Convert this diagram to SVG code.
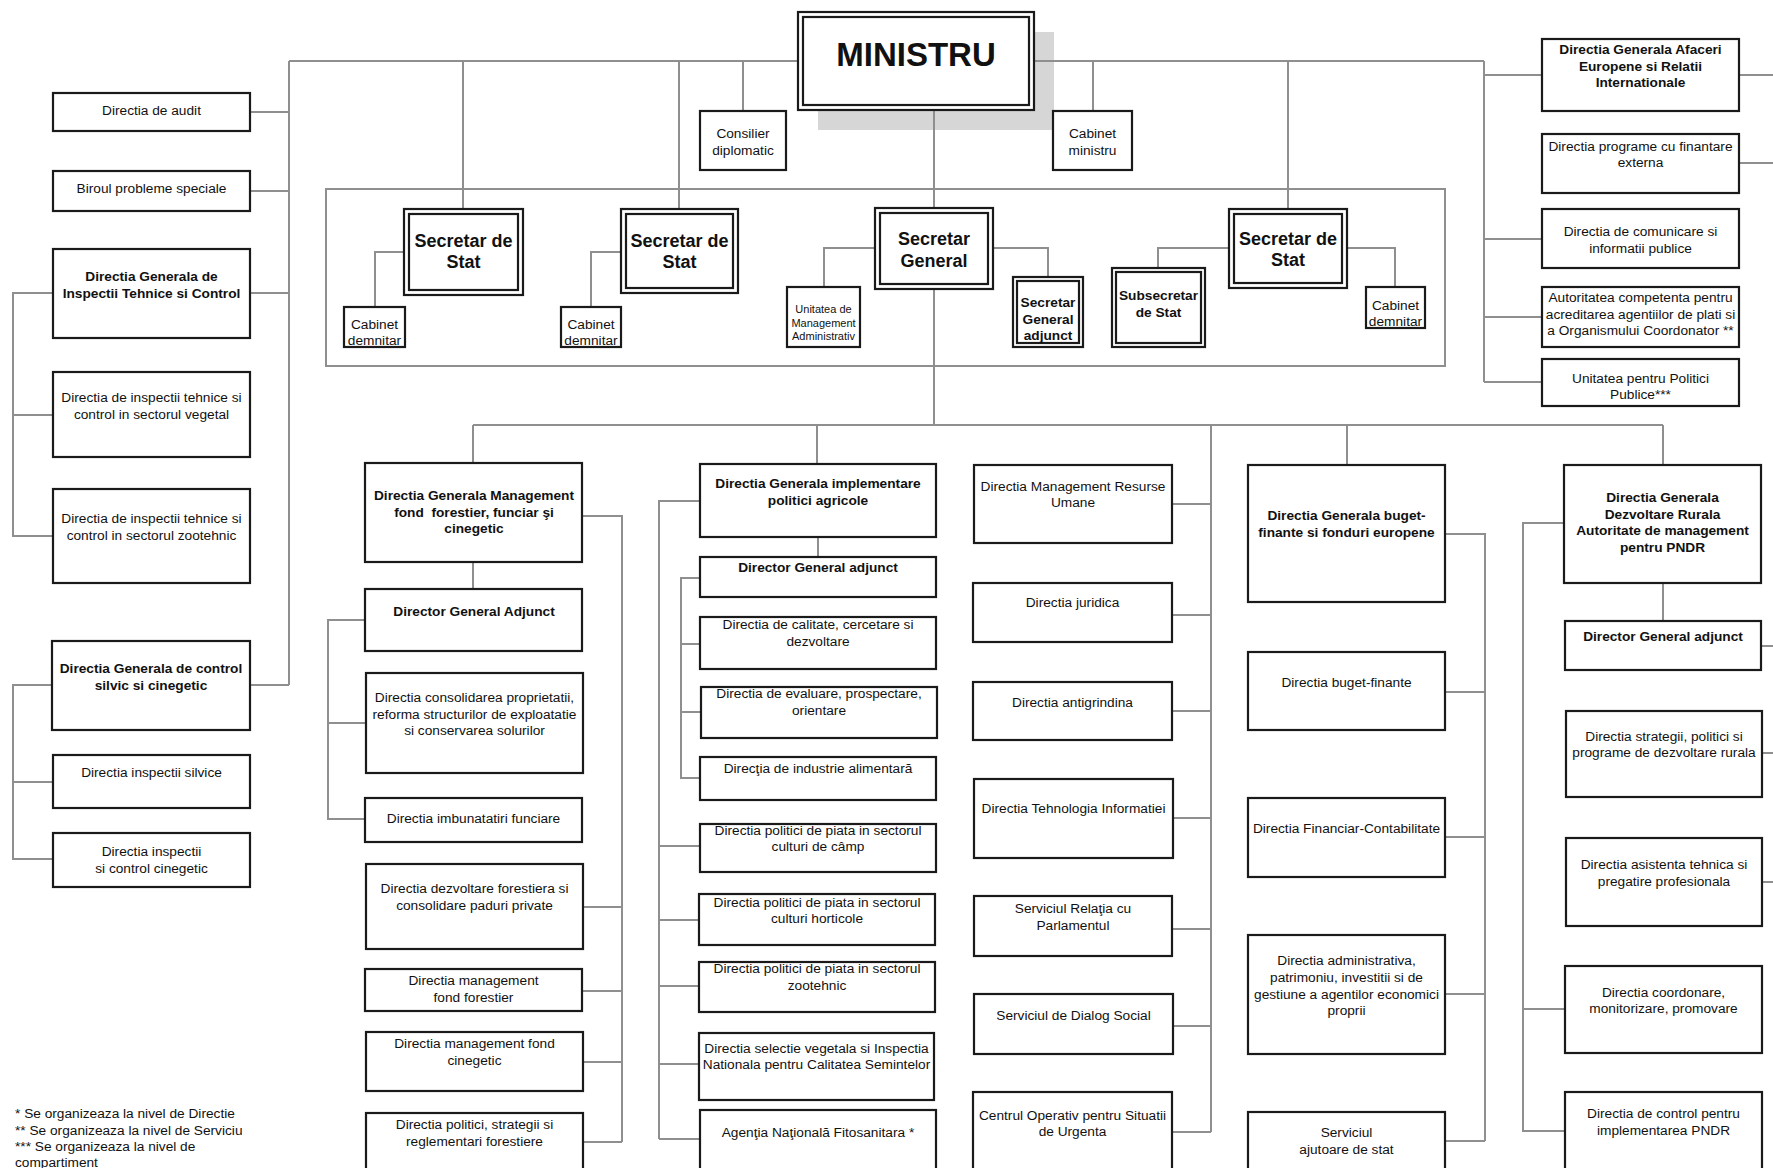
<svg xmlns="http://www.w3.org/2000/svg" width="1773" height="1168" viewBox="0 0 1773 1168">
<style>
.bg{fill:#fff}
.box{fill:#fff;stroke:#1a1a1a;stroke-width:2.2}
.dbl{fill:none;stroke:#1a1a1a;stroke-width:2.2}
.conn{fill:none;stroke:#8f8f8f;stroke-width:2}
.cont{fill:none;stroke:#8f8f8f;stroke-width:2}
.t{font-family:"Liberation Sans",Arial,sans-serif;font-size:13.7px;text-anchor:middle;fill:#111}
.b{font-weight:bold}
.big{font-family:"Liberation Sans",Arial,sans-serif;font-size:18px;font-weight:bold;text-anchor:middle;fill:#111}
.sm{font-family:"Liberation Sans",Arial,sans-serif;font-size:11px;text-anchor:middle;fill:#111}
.note{font-family:"Liberation Sans",Arial,sans-serif;font-size:13.7px;fill:#111}
</style>
<rect class="bg" x="0" y="0" width="1773" height="1168"/>
<rect x="818" y="32" width="236" height="98" fill="#d6d6d6"/>
<rect class="cont" x="326" y="189" width="1119" height="177"/>
<g id="connectors">
<path class="conn" d="M289 61H1484M289 61V685M250 112H289M250 191H289M250 293H289M250 685H289"/>
<path class="conn" d="M53 293H13V536H53M13 415H53M52 685H13V859H53M13 782H53"/>
<path class="conn" d="M463 61V209M679 61V209M743 61V111M1093 61V111M1288 61V209M934 110V208M934 289V425"/>
<path class="conn" d="M404 252H375V307M621 252H591V307M875 248H824V287M993 248H1048V277M1229 248H1158V268M1347 248H1395V287"/>
<path class="conn" d="M1484 61V382M1484 75H1542M1484 239H1542M1484 317H1542M1484 382H1542M1739 75H1773M1739 163H1773"/>
<path class="conn" d="M473 425H1663M473 425V463M817 425V464M1211 425V1132M1347 425V465M1663 425V465"/>
<path class="conn" d="M473 562V589M582 516H622V1142M583 907H622M582 991H622M583 1062H622M583 1142H622M365 620H328V819H365M328 723H366"/>
<path class="conn" d="M700 501H659V1139M659 846H700M659 920H699M659 986H699M659 1064H699M659 1139H700M818 537V557M700 578H681V778H700M681 644H700M681 712H701"/>
<path class="conn" d="M1172 504H1211M1172 615H1211M1172 711H1211M1173 818H1211M1172 929H1211M1173 1026H1211M1172 1132H1211"/>
<path class="conn" d="M1445 534H1485V1141M1445 692H1485M1445 837H1485M1445 994H1485M1445 1141H1485"/>
<path class="conn" d="M1564 523H1523V1131H1565M1523 1009H1565M1663 583V621M1761 646H1773M1762 753H1773M1762 882H1773"/>
</g>
<g id="ministru"><rect class="box" x="798" y="12" width="236" height="98"/><rect class="dbl" x="803" y="17" width="226" height="88"/><text x="916" y="66" style="font-family:'Liberation Sans',Arial,sans-serif;font-size:33px;font-weight:bold;text-anchor:middle;fill:#111">MINISTRU</text></g>
<g id="consilier"><rect class="box" x="700" y="111" width="86" height="59"/><text class="t" x="743" y="138">Consilier</text><text class="t" x="743" y="154.5">diplomatic</text></g>
<g id="cabinet-ministru"><rect class="box" x="1053" y="111" width="79" height="59"/><text class="t" x="1092.5" y="138">Cabinet</text><text class="t" x="1092.5" y="154.5">ministru</text></g>
<g id="sds1"><rect class="box" x="404" y="209" width="119" height="86"/><rect class="dbl" x="409" y="214" width="109" height="76"/><text class="big" x="463.5" y="247">Secretar de</text><text class="big" x="463.5" y="268">Stat</text></g>
<g id="cab1"><rect class="box" x="344" y="307" width="61" height="40"/><text class="t" x="374.5" y="329">Cabinet</text><text class="t" x="374.5" y="345">demnitar</text></g>
<g id="sds2"><rect class="box" x="621" y="209" width="117" height="84"/><rect class="dbl" x="626" y="214" width="107" height="74"/><text class="big" x="679.5" y="247">Secretar de</text><text class="big" x="679.5" y="268">Stat</text></g>
<g id="cab2"><rect class="box" x="561" y="307" width="60" height="40"/><text class="t" x="591" y="329">Cabinet</text><text class="t" x="591" y="345">demnitar</text></g>
<g id="sg"><rect class="box" x="875" y="208" width="118" height="81"/><rect class="dbl" x="880" y="213" width="108" height="71"/><text class="big" x="934" y="245">Secretar</text><text class="big" x="934" y="267">General</text></g>
<g id="uma"><rect class="box" x="787" y="287" width="73" height="60"/><text class="sm" x="823.5" y="313">Unitatea de</text><text class="sm" x="823.5" y="327">Management</text><text class="sm" x="823.5" y="340">Administrativ</text></g>
<g id="sga"><rect class="box" x="1013" y="277" width="70" height="70"/><rect class="dbl" x="1017" y="281" width="62" height="62"/><text class="t b" x="1048" y="307">Secretar</text><text class="t b" x="1048" y="323.5">General</text><text class="t b" x="1048" y="340">adjunct</text></g>
<g id="subsec"><rect class="box" x="1112" y="268" width="93" height="79"/><rect class="dbl" x="1116" y="272" width="85" height="71"/><text class="t b" x="1158.5" y="300">Subsecretar</text><text class="t b" x="1158.5" y="317">de Stat</text></g>
<g id="sds3"><rect class="box" x="1229" y="209" width="118" height="79"/><rect class="dbl" x="1234" y="214" width="108" height="69"/><text class="big" x="1288" y="245">Secretar de</text><text class="big" x="1288" y="266">Stat</text></g>
<g id="cab3"><rect class="box" x="1366" y="287" width="59" height="41"/><text class="t" x="1395.5" y="310">Cabinet</text><text class="t" x="1395.5" y="326">demnitar</text></g>
<g id="audit"><rect class="box" x="53" y="93" width="197" height="38"/><text class="t" x="151.5" y="115">Directia de audit</text></g>
<g id="biroul"><rect class="box" x="53" y="171" width="197" height="40"/><text class="t" x="151.5" y="193">Biroul probleme speciale</text></g>
<g id="dgitc"><rect class="box" x="53" y="249" width="197" height="89"/><text class="t b" x="151.5" y="281">Directia Generala de</text><text class="t b" x="151.5" y="297.5">Inspectii Tehnice si Control</text></g>
<g id="veg"><rect class="box" x="53" y="372" width="197" height="85"/><text class="t" x="151.5" y="402">Directia de inspectii tehnice si</text><text class="t" x="151.5" y="418.5">control in sectorul vegetal</text></g>
<g id="zoo"><rect class="box" x="53" y="489" width="197" height="94"/><text class="t" x="151.5" y="523">Directia de inspectii tehnice si</text><text class="t" x="151.5" y="539.5">control in sectorul zootehnic</text></g>
<g id="dgcsc"><rect class="box" x="52" y="641" width="198" height="89"/><text class="t b" x="151" y="673">Directia Generala de control</text><text class="t b" x="151" y="689.5">silvic si cinegetic</text></g>
<g id="silvice"><rect class="box" x="53" y="755" width="197" height="53"/><text class="t" x="151.5" y="777">Directia inspectii silvice</text></g>
<g id="cineg"><rect class="box" x="53" y="833" width="197" height="54"/><text class="t" x="151.5" y="856">Directia inspectii</text><text class="t" x="151.5" y="872.5">si control cinegetic</text></g>
<g id="dgaeri"><rect class="box" x="1542" y="39" width="197" height="72"/><text class="t b" x="1640.5" y="54">Directia Generala Afaceri</text><text class="t b" x="1640.5" y="70.5">Europene si Relatii</text><text class="t b" x="1640.5" y="87">Internationale</text></g>
<g id="programe"><rect class="box" x="1542" y="134" width="197" height="59"/><text class="t" x="1640.5" y="151">Directia programe cu finantare</text><text class="t" x="1640.5" y="167">externa</text></g>
<g id="comunicare"><rect class="box" x="1542" y="209" width="197" height="59"/><text class="t" x="1640.5" y="236">Directia de comunicare si</text><text class="t" x="1640.5" y="252.5">informatii publice</text></g>
<g id="autoritatea"><rect class="box" x="1542" y="287" width="197" height="60"/><text class="t" x="1640.5" y="302">Autoritatea competenta pentru</text><text class="t" x="1640.5" y="318.5">acreditarea agentiilor de plati si</text><text class="t" x="1640.5" y="335">a Organismului Coordonator **</text></g>
<g id="upp"><rect class="box" x="1542" y="359" width="197" height="47"/><text class="t" x="1640.5" y="383">Unitatea pentru Politici</text><text class="t" x="1640.5" y="399">Publice***</text></g>
<g id="dgmf"><rect class="box" x="365" y="463" width="217" height="99"/><text class="t b" x="474" y="500">Directia Generala Management</text><text class="t b" x="474" y="516.5" xml:space="preserve">fond  forestier, funciar şi</text><text class="t b" x="474" y="533">cinegetic</text></g>
<g id="dgaf"><rect class="box" x="365" y="589" width="217" height="62"/><text class="t b" x="474" y="616">Director General Adjunct</text></g>
<g id="consolidarea"><rect class="box" x="366" y="673" width="217" height="100"/><text class="t" x="474.5" y="702">Directia consolidarea proprietatii,</text><text class="t" x="474.5" y="718.5">reforma structurilor de exploatatie</text><text class="t" x="474.5" y="735">si conservarea solurilor</text></g>
<g id="imbunatatiri"><rect class="box" x="365" y="798" width="217" height="44"/><text class="t" x="473.5" y="823">Directia imbunatatiri funciare</text></g>
<g id="dezvfor"><rect class="box" x="366" y="864" width="217" height="85"/><text class="t" x="474.5" y="893">Directia dezvoltare forestiera si</text><text class="t" x="474.5" y="910">consolidare paduri private</text></g>
<g id="mgmtfor"><rect class="box" x="365" y="969" width="217" height="42"/><text class="t" x="473.5" y="985">Directia management</text><text class="t" x="473.5" y="1002">fond forestier</text></g>
<g id="mgmtcin"><rect class="box" x="366" y="1032" width="217" height="59"/><text class="t" x="474.5" y="1048">Directia management fond</text><text class="t" x="474.5" y="1065">cinegetic</text></g>
<g id="politicifor"><rect class="box" x="366" y="1113" width="217" height="65"/><text class="t" x="474.5" y="1129">Directia politici, strategii si</text><text class="t" x="474.5" y="1146">reglementari forestiere</text></g>
<g id="dgipa"><rect class="box" x="700" y="464" width="236" height="73"/><text class="t b" x="818" y="488">Directia Generala implementare</text><text class="t b" x="818" y="504.5">politici agricole</text></g>
<g id="dga2"><rect class="box" x="700" y="557" width="236" height="40"/><text class="t b" x="818" y="572">Director General adjunct</text></g>
<g id="calitate"><rect class="box" x="700" y="617" width="236" height="52"/><text class="t" x="818" y="629">Directia de calitate, cercetare si</text><text class="t" x="818" y="646">dezvoltare</text></g>
<g id="evaluare"><rect class="box" x="701" y="687" width="236" height="51"/><text class="t" x="819" y="698">Directia de evaluare, prospectare,</text><text class="t" x="819" y="715">orientare</text></g>
<g id="industrie"><rect class="box" x="700" y="757" width="236" height="43"/><text class="t" x="818" y="773">Direcţia de industrie alimentară</text></g>
<g id="camp"><rect class="box" x="700" y="824" width="236" height="48"/><text class="t" x="818" y="835">Directia politici de piata in sectorul</text><text class="t" x="818" y="851">culturi de câmp</text></g>
<g id="horticole"><rect class="box" x="699" y="894" width="236" height="51"/><text class="t" x="817" y="907">Directia politici de piata in sectorul</text><text class="t" x="817" y="923">culturi horticole</text></g>
<g id="zootehnic"><rect class="box" x="699" y="962" width="236" height="50"/><text class="t" x="817" y="973">Directia politici de piata in sectorul</text><text class="t" x="817" y="990">zootehnic</text></g>
<g id="selectie"><rect class="box" x="699" y="1033" width="235" height="67"/><text class="t" x="816.5" y="1053">Directia selectie vegetala si Inspectia</text><text class="t" x="816.5" y="1069">Nationala pentru Calitatea Semintelor</text></g>
<g id="agentia"><rect class="box" x="700" y="1110" width="236" height="68"/><text class="t" x="818" y="1137">Agenţia Naţională Fitosanitara *</text></g>
<g id="mru"><rect class="box" x="974" y="465" width="198" height="78"/><text class="t" x="1073" y="491">Directia Management Resurse</text><text class="t" x="1073" y="507">Umane</text></g>
<g id="juridica"><rect class="box" x="973" y="583" width="199" height="59"/><text class="t" x="1072.5" y="607">Directia juridica</text></g>
<g id="antigrindina"><rect class="box" x="973" y="682" width="199" height="58"/><text class="t" x="1072.5" y="707">Directia antigrindina</text></g>
<g id="ti"><rect class="box" x="974" y="779" width="199" height="79"/><text class="t" x="1073.5" y="813">Directia Tehnologia Informatiei</text></g>
<g id="relatia"><rect class="box" x="974" y="896" width="198" height="60"/><text class="t" x="1073" y="913">Serviciul Relaţia cu</text><text class="t" x="1073" y="930">Parlamentul</text></g>
<g id="dialog"><rect class="box" x="974" y="994" width="199" height="60"/><text class="t" x="1073.5" y="1020">Serviciul de Dialog Social</text></g>
<g id="centrul"><rect class="box" x="973" y="1092" width="199" height="86"/><text class="t" x="1072.5" y="1120">Centrul Operativ pentru Situatii</text><text class="t" x="1072.5" y="1136">de Urgenta</text></g>
<g id="dgbf"><rect class="box" x="1248" y="465" width="197" height="137"/><text class="t b" x="1346.5" y="520">Directia Generala buget-</text><text class="t b" x="1346.5" y="537">finante si fonduri europene</text></g>
<g id="bugetfin"><rect class="box" x="1248" y="652" width="197" height="78"/><text class="t" x="1346.5" y="687">Directia buget-finante</text></g>
<g id="financiar"><rect class="box" x="1248" y="798" width="197" height="79"/><text class="t" x="1346.5" y="833">Directia Financiar-Contabilitate</text></g>
<g id="administrativa"><rect class="box" x="1248" y="935" width="197" height="119"/><text class="t" x="1346.5" y="965">Directia administrativa,</text><text class="t" x="1346.5" y="982">patrimoniu, investitii si de</text><text class="t" x="1346.5" y="998.5">gestiune a agentilor economici</text><text class="t" x="1346.5" y="1015">proprii</text></g>
<g id="ajutoare"><rect class="box" x="1248" y="1112" width="197" height="66"/><text class="t" x="1346.5" y="1137">Serviciul</text><text class="t" x="1346.5" y="1154">ajutoare de stat</text></g>
<g id="dgdr"><rect class="box" x="1564" y="465" width="197" height="118"/><text class="t b" x="1662.5" y="502">Directia Generala</text><text class="t b" x="1662.5" y="518.5">Dezvoltare Rurala</text><text class="t b" x="1662.5" y="535">Autoritate de management</text><text class="t b" x="1662.5" y="551.5">pentru PNDR</text></g>
<g id="dga3"><rect class="box" x="1565" y="621" width="196" height="49"/><text class="t b" x="1663" y="641">Director General adjunct</text></g>
<g id="strategii"><rect class="box" x="1566" y="711" width="196" height="86"/><text class="t" x="1664" y="741">Directia strategii, politici si</text><text class="t" x="1664" y="757">programe de dezvoltare rurala</text></g>
<g id="asistenta"><rect class="box" x="1566" y="838" width="196" height="88"/><text class="t" x="1664" y="869">Directia asistenta tehnica si</text><text class="t" x="1664" y="886">pregatire profesionala</text></g>
<g id="coordonare"><rect class="box" x="1565" y="966" width="197" height="87"/><text class="t" x="1663.5" y="997">Directia coordonare,</text><text class="t" x="1663.5" y="1013">monitorizare, promovare</text></g>
<g id="controlpndr"><rect class="box" x="1565" y="1092" width="197" height="86"/><text class="t" x="1663.5" y="1118">Directia de control pentru</text><text class="t" x="1663.5" y="1135">implementarea PNDR</text></g>
<g id="notes"><text class="note" x="15" y="1118">* Se organizeaza la nivel de Directie</text><text class="note" x="15" y="1134.5">** Se organizeaza la nivel de Serviciu</text><text class="note" x="15" y="1151">*** Se organizeaza la nivel de</text><text class="note" x="15" y="1167">compartiment</text></g>
</svg>
